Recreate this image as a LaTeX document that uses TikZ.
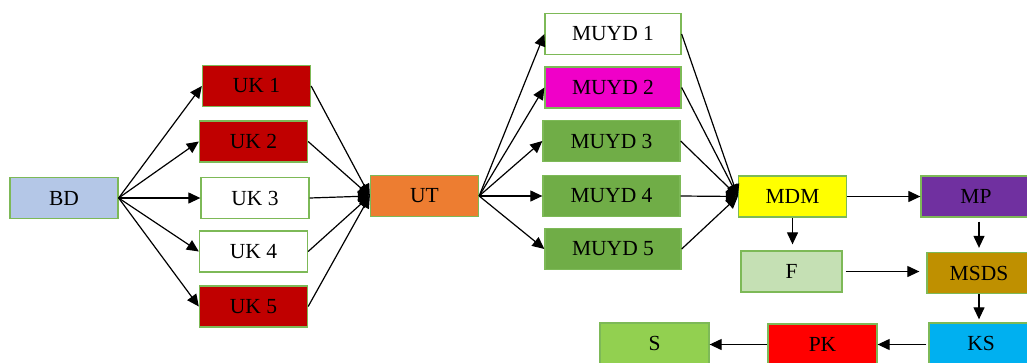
\documentclass[tikz,border=0pt]{standalone}
\usepackage{fontspec}
\setmainfont{Liberation Serif}
\usetikzlibrary{arrows.meta}
\definecolor{edgegreen}{HTML}{7DB957}
\definecolor{cBD}{HTML}{B4C7E7}
\definecolor{cUK}{HTML}{C00000}
\definecolor{cUT}{HTML}{ED7D31}
\definecolor{cMag}{HTML}{F000C8}
\definecolor{cGreen}{HTML}{70AD47}
\definecolor{cYel}{HTML}{FFFF00}
\definecolor{cMP}{HTML}{7030A0}
\definecolor{cF}{HTML}{C5E0B4}
\definecolor{cMSDS}{HTML}{BF9000}
\definecolor{cKS}{HTML}{00B0F0}
\definecolor{cPK}{HTML}{FF0000}
\definecolor{cS}{HTML}{92D050}
\begin{document}
\begin{tikzpicture}[x=1pt,y=-1pt,
  box/.style={draw=edgegreen, line width=1.3pt, inner sep=0pt,
    minimum width=108pt, minimum height=41pt,
    font=\fontsize{21.5}{25}\selectfont},
  arr/.style={line width=1.2pt, -{Triangle[length=12pt,width=11pt]}}]
\useasboundingbox (0,0) rectangle (1027,362);
\clip (0,0) rectangle (1027,362);
\fill[white] (0,0) rectangle (1027,362);
% first column
\node[box, fill=cBD] (bd) at (64,198) {BD};
\node[box, fill=cUK] (uk1) at (256.5,86) {UK 1};
\node[box, fill=cUK] (uk2) at (253.5,141.5) {UK 2};
\node[box, fill=white] (uk3) at (255,198) {UK 3};
\node[box, fill=white] (uk4) at (253.5,251.5) {UK 4};
\node[box, fill=cUK] (uk5) at (253.5,306.5) {UK 5};
\node[box, fill=cUT] (ut) at (424.5,196) {UT};
% MUYD column
\node[box, fill=white, minimum width=136pt] (m1) at (613,34) {MUYD 1};
\node[box, fill=cMag, minimum width=136pt] (m2) at (613,87.5) {MUYD 2};
\node[box, fill=cGreen, minimum width=137pt] (m3) at (611.5,141) {MUYD 3};
\node[box, fill=cGreen, minimum width=137pt] (m4) at (611.5,196) {MUYD 4};
\node[box, fill=cGreen, minimum width=136pt] (m5) at (613,249) {MUYD 5};
% right part
\node[box, fill=cYel] (mdm) at (792.5,196.5) {MDM};
\node[box, fill=cMP, minimum width=110pt] (mp) at (976,196.5) {MP};
\node[box, fill=cF, minimum width=101pt] (f) at (791.5,271.5) {F};
\node[box, fill=cMSDS, minimum width=104pt] (msds) at (979,273) {MSDS};
\node[box, fill=cKS, minimum width=104pt] (ks) at (981,343.5) {KS};
\node[box, fill=cPK, minimum width=109pt] (pk) at (822.5,344.5) {PK};
\node[box, fill=cS, minimum width=109pt] (s) at (654.5,343.5) {S};
% connectors
\foreach \n in {uk1,uk2,uk3,uk4,uk5} {
  \draw[arr] (bd.east) -- (\n.west);
  \draw[arr] (\n.east) -- (ut.west);
}
\foreach \n in {m1,m2,m3,m4,m5} {
  \draw[arr] (ut.east) -- (\n.west);
  \draw[arr] (\n.east) -- (mdm.west);
}
\draw[arr] (mdm.east) -- (mp.west);
\draw[arr, shorten >=6pt] (mdm.south) -- (mdm.south |- f.north);
\draw[arr, shorten <=3pt, shorten >=7pt] (f.east) -- (f.east -| msds.west);
\draw[arr, shorten <=4pt, shorten >=4pt] (msds.north |- mp.south) -- (msds.north);
\draw[arr, shorten >=3pt] (msds.south) -- (msds.south |- ks.north);
\draw[arr, shorten <=2pt] (ks.west |- pk.west) -- (pk.east);
\draw[arr] (pk.west) -- (pk.west -| s.east);
\end{tikzpicture}
\end{document}
